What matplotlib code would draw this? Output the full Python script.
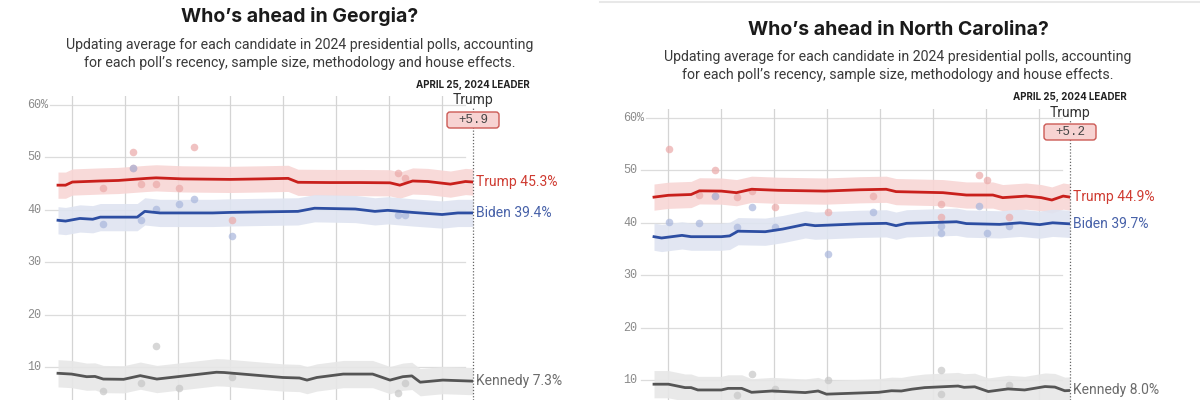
import matplotlib
matplotlib.use("Agg")
import matplotlib.pyplot as plt
from matplotlib import font_manager
from matplotlib.patches import FancyBboxPatch
from matplotlib.transforms import IdentityTransform

W, H = 1200, 400

# ---- Georgia ----
ga_trump_days = [0, 1.0, 1.9, 5.6, 8, 11.8, 13, 16.5, 22.8, 27, 30.5, 31.8, 36, 40, 44, 45.3, 47, 49, 52, 54, 55]
ga_trump = [44.7, 44.7, 45.3, 45.5, 45.6, 46.0, 46.1, 45.9, 45.8, 45.9, 46.0, 45.25, 45.2, 45.2, 45.15, 44.7, 45.5, 45.4, 44.9, 45.4, 45.3]
ga_biden_days = [0, 1, 2.9, 4.6, 5.6, 9.8, 10.5, 11.5, 13.5, 20.5, 22.8, 27, 31.8, 34, 39.4, 42, 43.7, 47, 50.9, 53, 55]
ga_biden = [38.0, 37.85, 38.35, 38.2, 38.6, 38.6, 38.6, 39.7, 39.4, 39.4, 39.5, 39.6, 39.7, 40.3, 40.15, 39.7, 39.9, 39.5, 39.1, 39.4, 39.4]
ga_kennedy_days = [0, 1.8, 3.8, 4.9, 6, 8.7, 10.9, 13.1, 21, 22, 29.8, 32, 33, 34.3, 37.8, 41.7, 44, 45.7, 46.9, 48, 51, 55]
ga_kennedy = [8.8, 8.65, 8.15, 8.2, 7.7, 7.65, 8.35, 7.7, 9.0, 8.95, 8.0, 7.9, 7.5, 8.0, 8.65, 8.65, 7.5, 8.15, 8.3, 7.1, 7.5, 7.3]

ga_poll_trump_days = [6, 10, 10, 11, 13, 16, 18, 23, 45, 46]
ga_poll_trump = [44.2, 51.0, 48.0, 45.0, 45.0, 44.1, 52.0, 38.1, 47.1, 46.1]
ga_poll_biden_days = [6, 10, 11, 13, 16, 18, 23, 45, 46]
ga_poll_biden = [37.2, 48.0, 38.0, 40.1, 41.05, 42.0, 35.0, 39.0, 39.0]
ga_poll_kennedy_days = [6, 11, 13, 16, 23, 45, 46]
ga_poll_kennedy = [5.4, 7.0, 14.0, 6.05, 8.0, 5.1, 7.0]

# ---- North Carolina ----
nc_trump_days = [0, 1.9, 4.9, 6.0, 8.9, 10.9, 12.9, 16.4, 22.6, 27.2, 30.7, 32.0, 38.2, 41.3, 44.8, 46.1, 49.2, 51.2, 52.6, 54.1, 55]
nc_trump = [44.9, 45.25, 45.4, 46.1, 46.05, 45.75, 46.4, 46.2, 46.05, 46.3, 46.4, 45.95, 45.75, 45.3, 45.3, 44.8, 45.1, 44.8, 44.35, 45.1, 44.9]
nc_biden_days = [0, 1.0, 3.7, 4.9, 8.9, 10.0, 11.1, 14.7, 17, 20.0, 21.3, 27.2, 30.7, 32.0, 33.4, 40.0, 41.3, 45.7, 48.4, 51.0, 52.7, 55]
nc_biden = [37.35, 37.1, 37.6, 37.35, 37.35, 37.5, 38.4, 38.3, 38.8, 39.7, 39.45, 39.8, 39.9, 39.45, 39.9, 40.2, 39.85, 39.7, 40.0, 39.65, 40.0, 39.8]
nc_kennedy_days = [0, 1.9, 4.1, 4.9, 5.8, 8.9, 9.8, 11.6, 12.9, 15.6, 20.0, 21.7, 22.8, 29.7, 31.4, 32.7, 34.1, 35.8, 40.2, 41, 42.4, 44.2, 46.8, 49.0, 51.7, 53.0, 54.3, 55]
nc_kennedy = [9.2, 9.2, 8.55, 8.55, 8.1, 8.1, 8.4, 8.4, 7.65, 7.9, 7.6, 7.9, 7.3, 7.65, 7.95, 7.9, 8.25, 8.55, 8.85, 8.6, 8.7, 7.8, 8.3, 8.1, 8.75, 8.65, 7.95, 8.0]

nc_poll_trump_days = [2, 6, 8, 8, 11, 13, 16, 23, 29, 38, 38, 43, 44, 47]
nc_poll_trump = [54.0, 45.25, 50.1, 45.1, 45.0, 46.0, 43.1, 42.1, 45.1, 43.5, 41.2, 49.1, 48.2, 41.2]
nc_poll_biden_days = [2, 6, 8, 11, 13, 16, 23, 29, 38, 38, 43, 44, 47]
nc_poll_biden = [40.2, 39.9, 45.1, 39.15, 43.1, 39.15, 34.1, 42.1, 39.3, 38.1, 43.2, 38.1, 39.3]
nc_poll_kennedy_days = [11, 13, 16, 23, 38, 38, 47]
nc_poll_kennedy = [7.1, 11.1, 8.2, 10.0, 12.0, 7.4, 9.1]

# band half widths
band_trump, band_biden, band_kennedy = 2.5, 2.6, 2.6

titles = ["Who\u2019s ahead in Georgia?", "Who\u2019s ahead in North Carolina?"]
subtitle = ["Updating average for each candidate in 2024 presidential polls, accounting",
            "for each poll\u2019s recency, sample size, methodology and house effects."]
leader_date = "APRIL 25, 2024 LEADER"
leaders = ["Trump", "Trump"]
margins = ["+5.9", "+5.2"]
final_trump = [45.3, 44.9]
final_biden = [39.4, 39.7]
final_kennedy = [7.3, 8.0]
yticks = [10, 20, 30, 40, 50, 60]
ytick_labels = ["10", "20", "30", "40", "50", "60%"]
week_lines = [1.85, 8.85, 15.85, 22.85, 29.85, 36.85, 43.85, 50.85]

RED, RED_BAND, RED_DOT, RED_TXT = "#c9201c", "#f8d6d5", "#eba9a8", "#cf3b31"
BLUE, BLUE_BAND, BLUE_DOT, BLUE_TXT = "#2d4ea2", "#dfe4f1", "#a8b6dc", "#4862a9"
GRAY, GRAY_BAND, GRAY_DOT, GRAY_TXT = "#555555", "#e7e7e7", "#c6c6c6", "#6b6b6b"

names = {f.name for f in font_manager.fontManager.ttflist}
SANS = "Roboto" if "Roboto" in names else "DejaVu Sans"
BOLD = "Inter" if "Inter" in names else SANS
MONO = "Liberation Mono" if "Liberation Mono" in names else "DejaVu Sans Mono"

fig = plt.figure(figsize=(W / 100, H / 100), dpi=100)
fig.patch.set_facecolor("white")

panels = [
    dict(x0=58, x1=473, y60=105, y10=367, cx=300, ty=17, sy=45, ay=85, ly=100, by=120,
         trump=(ga_trump_days, ga_trump), biden=(ga_biden_days, ga_biden), kennedy=(ga_kennedy_days, ga_kennedy),
         pt=(ga_poll_trump_days, ga_poll_trump), pb=(ga_poll_biden_days, ga_poll_biden),
         pk=(ga_poll_kennedy_days, ga_poll_kennedy)),
    dict(x0=654, x1=1070, y60=118, y10=380, cx=898, ty=30, sy=57, ay=97, ly=113, by=132,
         trump=(nc_trump_days, nc_trump), biden=(nc_biden_days, nc_biden), kennedy=(nc_kennedy_days, nc_kennedy),
         pt=(nc_poll_trump_days, nc_poll_trump), pb=(nc_poll_biden_days, nc_poll_biden),
         pk=(nc_poll_kennedy_days, nc_poll_kennedy)),
]

for i, p in enumerate(panels):
    ppd = (p["x1"] - p["x0"]) / 55.0
    ppu = (p["y10"] - p["y60"]) / 50.0
    left_px = p["x0"] - 6
    top_px = p["y60"] - 9
    ylo = 10 - (H - p["y10"]) / ppu
    yhi = 60 + (p["y60"] - top_px) / ppu
    ax = fig.add_axes([left_px / W, 0, (p["x1"] - left_px) / W, (H - top_px) / H])
    ax.set_xlim(-6 / ppd, 55)
    ax.set_ylim(ylo, yhi)
    ax.set_axis_off()

    def dx(px):
        return (px - p["x0"]) / ppd

    # grid
    for t, lab in zip(yticks, ytick_labels):
        start = dx(p["x0"] - 8) if t == 60 else dx(p["x0"] - 13)
        ax.plot([start, 54], [t, t], color="#dcdcdc", lw=0.9, zorder=1, clip_on=False)
        ax.text(dx(p["x0"] - 31), t, lab, ha="left", va="center", fontsize=8.5,
                family=MONO, color="#8a8a8a", clip_on=False)
    for d in week_lines:
        ax.plot([d, d], [ylo, yhi], color="#d4d4d4", lw=0.9, zorder=1)

    # bands and lines
    series = [(p["trump"], band_trump, RED, RED_BAND),
              (p["biden"], band_biden, BLUE, BLUE_BAND),
              (p["kennedy"], band_kennedy, GRAY, GRAY_BAND)]
    for (days, vals), bw, c, cb in series:
        ax.fill_between(days, [v - bw for v in vals], [v + bw for v in vals],
                        color=cb, lw=0, zorder=2, alpha=0.9)
    for (days, vals), c in [(p["pt"], RED_DOT), (p["pb"], BLUE_DOT), (p["pk"], GRAY_DOT)]:
        ax.scatter(days, vals, s=30, color=c, alpha=0.7, lw=0, zorder=3)
    for (days, vals), bw, c, cb in series:
        ax.plot(days, vals, color=c, lw=2.0, zorder=4, solid_joinstyle="round")

    # end line
    ax.plot([55, 55], [ylo, 60 - (p["ly"] + 7 - p["y60"]) / ppu], color="#666666",
            lw=0.9, ls=(0, (1, 1.5)), zorder=5, clip_on=False)

    # end labels
    lx = dx(p["x1"] + 3)
    ax.text(lx, p["trump"][1][-1], f"Trump {final_trump[i]}%", color=RED_TXT, fontsize=10,
            family=SANS, va="center", ha="left", clip_on=False)
    ax.text(lx, p["biden"][1][-1], f"Biden {final_biden[i]}%", color=BLUE_TXT, fontsize=10,
            family=SANS, va="center", ha="left", clip_on=False)
    ax.text(lx, p["kennedy"][1][-1], f"Kennedy {final_kennedy[i]}%", color=GRAY_TXT, fontsize=10,
            family=SANS, va="center", ha="left", clip_on=False)

    # titles
    fig.text(p["cx"] / W, 1 - p["ty"] / H, titles[i], ha="center", va="center",
             fontsize=14, fontweight="bold", family=BOLD, color="#1a1a1a")
    for k, line in enumerate(subtitle):
        fig.text(p["cx"] / W, 1 - (p["sy"] + 18 * k) / H, line, ha="center", va="center",
                 fontsize=10.2, family=SANS, color="#3a3a3a")

    # leader annotation
    fig.text(p["x1"] / W, 1 - p["ay"] / H, leader_date, ha="center", va="center",
             fontsize=7, fontweight="bold", family=BOLD, color="#222222")
    fig.text(p["x1"] / W, 1 - p["ly"] / H, leaders[i], ha="center", va="center",
             fontsize=10, family=SANS, color="#333333")
    box = FancyBboxPatch((p["x1"] - 26, H - p["by"] - 8), 52, 16,
                         boxstyle="round,pad=0,rounding_size=3", transform=IdentityTransform(),
                         facecolor="#f7d3d2", edgecolor="#cc5a55", lw=1.0, zorder=6)
    fig.add_artist(box)
    fig.text(p["x1"] / W, 1 - p["by"] / H, margins[i], ha="center", va="center",
             fontsize=9, family=MONO, color="#444444", zorder=7)

# thin rule across the top of the right screenshot
fig.add_artist(plt.Line2D([600 / W, 1], [1 - 1.5 / H, 1 - 1.5 / H], color="#e8e8e8", lw=1.5))

fig.savefig("out.png", dpi=100, facecolor="white")
